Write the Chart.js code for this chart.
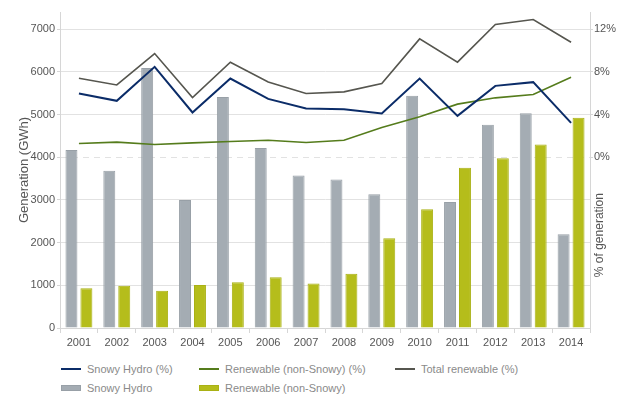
<!DOCTYPE html>
<html>
<head>
<meta charset="utf-8">
<script src="https://cdn.jsdelivr.net/npm/chart.js@4/dist/chart.umd.min.js"></script>
<style>
  body { margin: 0; background: #fff; }
  #wrap { position: relative; width: 629px; height: 412px; font-family: "Liberation Sans", Arial, sans-serif; }
  #legend { position: absolute; left: 61px; top: 359px; display: grid; grid-template-columns: 138px 196px auto; grid-auto-rows: 19px; }
  .item { display: flex; align-items: center; font-size: 11px; color: #8a8a8a; white-space: nowrap; }
  .sw { display: inline-block; width: 20px; margin-right: 6px; box-sizing: border-box; }
</style>
</head>
<body>
<div id="wrap">
  <canvas id="chart" width="629" height="355"></canvas>
  <div id="legend"></div>
</div>
<script>
// ── Snowy Hydro vs other renewable generation ──
const years = ['2001', '2002', '2003', '2004', '2005', '2006', '2007', '2008', '2009', '2010', '2011', '2012', '2013', '2014'];

// GWh (left axis)
const snowyGWh = [4170, 3680, 6090, 3000, 5410, 4215, 3570, 3480, 3130, 5440, 2950, 4760, 5030, 2195];
const renewGWh = [930, 990, 875, 1005, 1070, 1187, 1045, 1270, 2100, 2780, 3755, 3975, 4295, 4925];

// % of generation (right axis)
const snowyPct = [5.97, 5.28, 8.46, 4.19, 7.37, 5.46, 4.56, 4.50, 4.09, 7.37, 3.87, 6.68, 7.03, 3.22];
const renewPct = [1.28, 1.41, 1.19, 1.34, 1.47, 1.59, 1.38, 1.59, 2.78, 3.78, 4.97, 5.56, 5.87, 7.49];
const totalPct = [7.40, 6.77, 9.71, 5.59, 8.90, 7.05, 5.97, 6.12, 6.90, 11.08, 8.90, 12.43, 12.90, 10.77];

const leftTicks = [0, 1000, 2000, 3000, 4000, 5000, 6000, 7000];
const rightTicks = [0, 4, 8, 12];

const FONT = '"Liberation Sans", Arial, sans-serif';
const tickColor = '#555';
const gridColor = '#e2e2e2';

// right axis title reads bottom-to-top, so draw it ourselves
const rightTitle = {
  id: 'rightTitle',
  afterDraw(chart) {
    const { ctx } = chart;
    const y1 = chart.scales.y1;
    ctx.save();
    ctx.translate(chart.width - 29, y1.getPixelForValue(-7.3));
    ctx.rotate(-Math.PI / 2);
    ctx.font = '12px ' + FONT;
    ctx.fillStyle = tickColor;
    ctx.textAlign = 'center';
    ctx.textBaseline = 'middle';
    ctx.fillText('% of generation', 0, 0);
    ctx.restore();
  }
};

const chart = new Chart(document.getElementById('chart'), {
  type: 'bar',
  data: {
    labels: years,
    datasets: [
      { type: 'line', label: 'Snowy Hydro (%)', data: snowyPct, yAxisID: 'y1', borderColor: '#0b2c68', borderWidth: 2, pointRadius: 0, tension: 0, order: 0 },
      { type: 'line', label: 'Renewable (non-Snowy) (%)', data: renewPct, yAxisID: 'y1', borderColor: '#557c1c', borderWidth: 1.6, pointRadius: 0, tension: 0, order: 0 },
      { type: 'line', label: 'Total renewable (%)', data: totalPct, yAxisID: 'y1', borderColor: '#56564f', borderWidth: 1.6, pointRadius: 0, tension: 0, order: 0 },
      { label: 'Snowy Hydro', data: snowyGWh, yAxisID: 'y', backgroundColor: '#a4acb3', borderColor: '#98a0a7', borderWidth: 1, categoryPercentage: 0.79, barPercentage: 0.8, order: 1 },
      { label: 'Renewable (non-Snowy)', data: renewGWh, yAxisID: 'y', backgroundColor: '#b5bd1b', borderColor: '#a9b114', borderWidth: 1, categoryPercentage: 0.79, barPercentage: 0.8, order: 1 }
    ]
  },
  options: {
    responsive: false,
    animation: false,
    layout: { padding: { top: 12, left: 0, right: 0, bottom: 0 } },
    plugins: {
      legend: { display: false },
      tooltip: { enabled: false }
    },
    scales: {
      x: {
        offset: true,
        grid: { offset: true, drawOnChartArea: false, tickLength: 5, color: '#d6d6d6' },
        border: { color: '#d6d6d6' },
        ticks: { color: tickColor, font: { size: 11, family: FONT }, padding: 3, maxRotation: 0 },
        afterFit: s => { s.height = 27; }
      },
      y: {
        position: 'left',
        min: 0,
        max: 7400,
        afterBuildTicks: s => { s.ticks = leftTicks.map(v => ({ value: v })); },
        ticks: { color: tickColor, font: { size: 11, family: FONT }, padding: 2, callback: v => String(v) },
        grid: { color: gridColor, tickLength: 3, tickColor: '#d6d6d6' },
        border: { color: '#d6d6d6', dash: c => (c.tick && c.tick.value === 4000 ? [6, 5] : []) },
        title: { display: true, text: 'Generation (GWh)', color: tickColor, font: { size: 13, family: FONT }, padding: { top: 17, bottom: 0 } },
        afterFit: s => { s.width = 60; }
      },
      y1: {
        position: 'right',
        min: -16,
        max: 13.6,
        afterBuildTicks: s => { s.ticks = rightTicks.map(v => ({ value: v })); },
        ticks: { color: tickColor, font: { size: 11, family: FONT }, padding: 1, callback: v => v + '%' },
        grid: { drawOnChartArea: false, tickLength: 3, color: '#d6d6d6' },
        border: { color: '#d6d6d6' },
        afterFit: s => { s.width = 39; }
      }
    }
  },
  plugins: [rightTitle]
});

// HTML legend: line series on the first row, bars on the second
const legend = document.getElementById('legend');
chart.data.datasets.forEach((ds, i) => {
  const item = document.createElement('div');
  item.className = 'item';
  const sw = document.createElement('span');
  sw.className = 'sw';
  if (ds.type === 'line') {
    sw.style.height = '2px';
    sw.style.background = ds.borderColor;
  } else {
    sw.style.height = '6px';
    sw.style.background = ds.backgroundColor;
    sw.style.border = '1px solid ' + ds.borderColor;
  }
  item.appendChild(sw);
  item.appendChild(document.createTextNode(ds.label));
  if (i === 3) item.style.gridColumn = '1';
  legend.appendChild(item);
});
</script>
</body>
</html>
